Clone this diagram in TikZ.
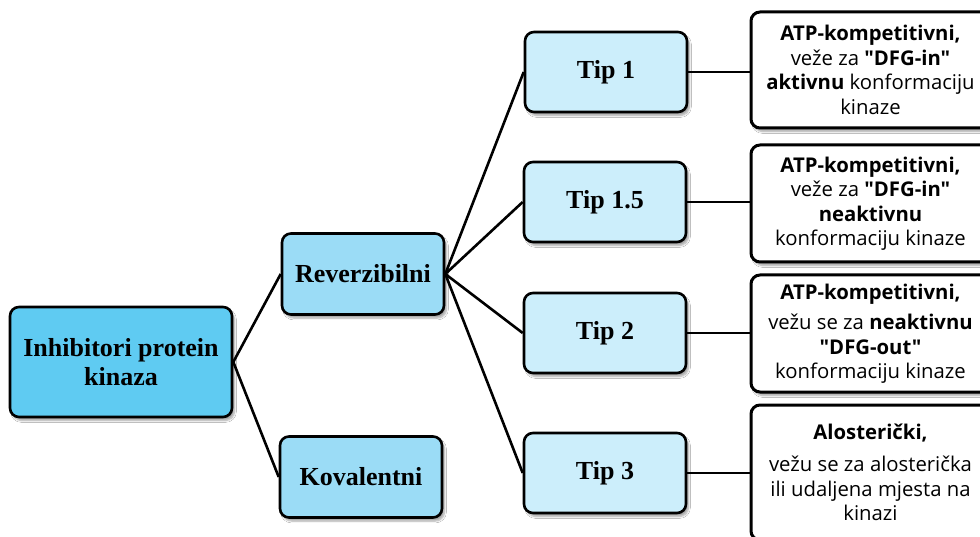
\documentclass[tikz,border=0pt]{standalone}
\usepackage{fontspec}
\setmainfont{Liberation Serif}
\newfontfamily\boxsans{Open Sans}
\usetikzlibrary{shadows.blur}
\definecolor{rootblue}{HTML}{5FCBF2}
\definecolor{midblue}{HTML}{9BDCF6}
\definecolor{lightblue}{HTML}{CCEEFB}
\tikzset{
  base/.style={draw=black, line width=2.6pt, rounded corners=9pt, align=center, inner sep=0pt,
    blur shadow={shadow xshift=2.5pt, shadow yshift=-3.5pt, shadow blur steps=6, shadow opacity=35}},
  rootbox/.style={base, fill=rootblue, minimum width=222pt, minimum height=110pt,
    font=\bfseries\fontsize{26}{28.5}\selectfont},
  catbox/.style={base, fill=midblue, minimum width=162pt, minimum height=81pt,
    font=\bfseries\fontsize{26}{28.5}\selectfont},
  tipbox/.style={base, fill=lightblue, minimum width=162pt, minimum height=80pt,
    font=\bfseries\fontsize{26}{28.5}\selectfont},
  descbox/.style={base, line width=3pt, fill=white, minimum width=239pt,
    font=\boxsans\fontsize{20.3}{24.5}\selectfont},
  link/.style={line width=2.6pt, draw=black},
}
\begin{document}
\begin{tikzpicture}[x=1pt,y=-1pt]
\useasboundingbox (0,0) rectangle (980,537);
\fill[white] (0,0) rectangle (980,537);
% nodes
\node[rootbox] (root) at (121,362) {Inhibitori protein\\kinaza};
\node[catbox] (rev) at (363,274) {Reverzibilni};
\node[catbox] (kov) at (361,477) {Kovalentni};
\node[tipbox] (t1) at (606,72) {Tip 1};
\node[tipbox] (t15) at (605,202) {Tip 1.5};
\node[tipbox] (t2) at (605,333) {Tip 2};
\node[tipbox] (t3) at (605,473) {Tip 3};
\node[descbox, minimum height=116pt] (d1) at (870.5,70)
  {\textbf{ATP-kompetitivni,}\\ veže za \textbf{"DFG-in"}\\ \textbf{aktivnu} konformaciju\\ kinaze};
\node[descbox, minimum height=117pt] (d2) at (870.5,203.5)
  {\textbf{ATP-kompetitivni,}\\ veže za \textbf{"DFG-in"}\\ \textbf{neaktivnu}\\ konformaciju kinaze};
\node[descbox, minimum height=117pt] (d3) at (870.5,333.5)
  {\textbf{ATP-kompetitivni,}\\[6pt] vežu se za \textbf{neaktivnu}\\ \textbf{"DFG-out"}\\ konformaciju kinaze};
\node[descbox, minimum height=135pt] (d4) at (870.5,472.5)
  {\textbf{Alosterički,}\\[8pt] vežu se za alosterička\\ ili udaljena mjesta na\\ kinazi};
% connectors
\draw[link] (root.east) -- (rev.west);
\draw[link] (root.east) -- (kov.west);
\draw[link] (rev.east) -- (t1.west);
\draw[link] (rev.east) -- (t15.west);
\draw[link] (rev.east) -- (t2.west);
\draw[link] (rev.east) -- (t3.west);
\draw[link] (t1.east) -- (t1.east -| d1.west);
\draw[link] (t15.east) -- (t15.east -| d2.west);
\draw[link] (t2.east) -- (t2.east -| d3.west);
\draw[link] (t3.east) -- (t3.east -| d4.west);
\end{tikzpicture}
\end{document}
